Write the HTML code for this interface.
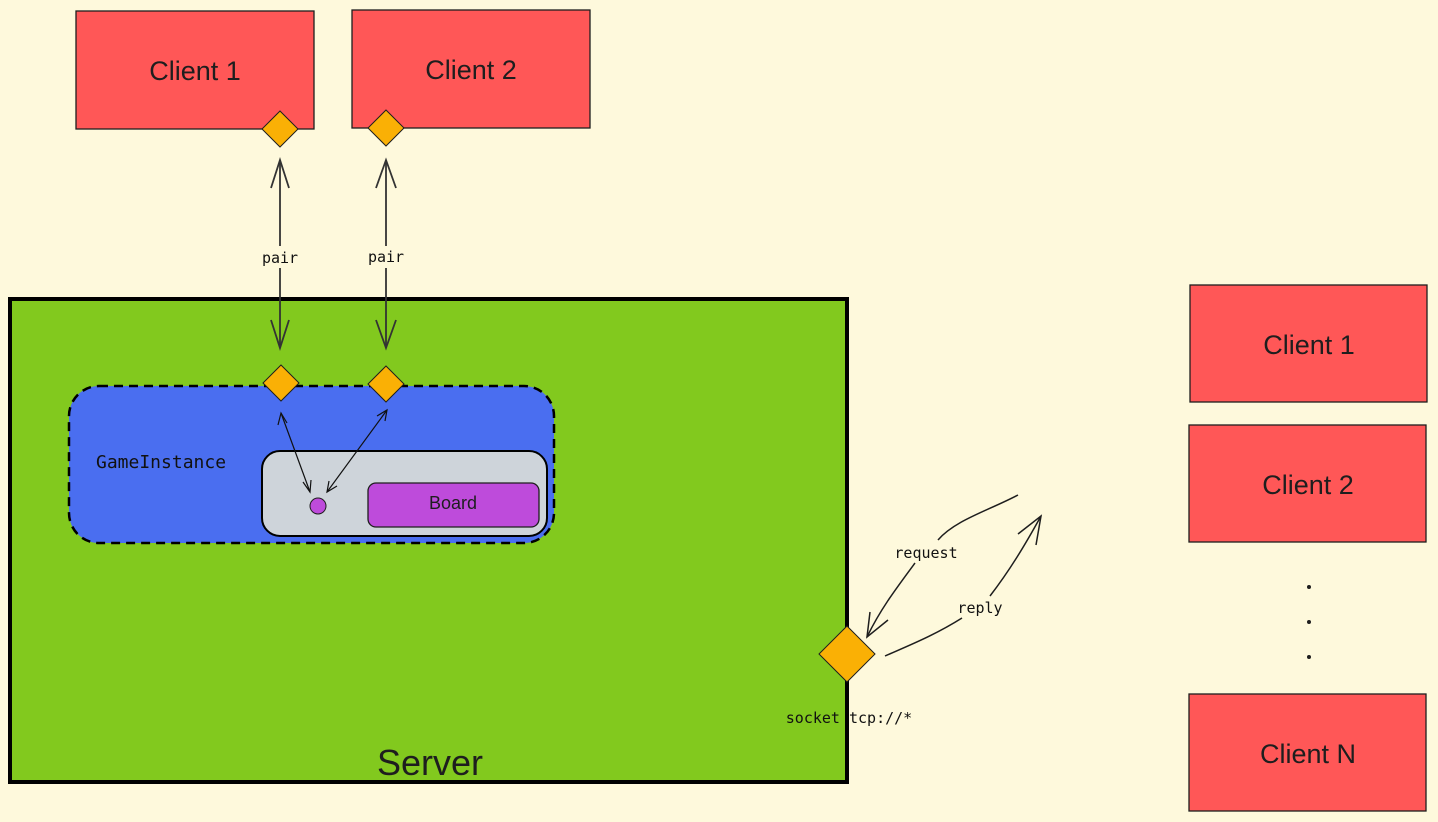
<!DOCTYPE html>
<html><head><meta charset="utf-8"><style>
html,body{margin:0;padding:0;background:#fef9dc;}
svg{display:block}
.h{font-family:"Liberation Sans",sans-serif}
.m{font-family:"DejaVu Sans Mono","Liberation Mono",monospace}
</style></head><body>
<svg width="1438" height="822" viewBox="0 0 1438 822" xmlns="http://www.w3.org/2000/svg">
<rect width="1438" height="822" fill="#fef9dc"/>
<g stroke="#1e1e1e" stroke-width="1.3" fill="#ff5757">
<rect x="76" y="11" width="238" height="118"/>
<rect x="352" y="10" width="238" height="118"/>
<rect x="1190" y="285" width="237" height="117"/>
<rect x="1189" y="425" width="237" height="117"/>
<rect x="1189" y="694" width="237" height="117"/>
</g>
<g class="h" font-size="27" fill="#1e1e1e" text-anchor="middle">
<text x="195" y="80">Client 1</text>
<text x="471" y="79">Client 2</text>
<text x="1309" y="354">Client 1</text>
<text x="1308" y="494">Client 2</text>
<text x="1308" y="763">Client N</text>
</g>
<g fill="#1e1e1e"><circle cx="1309" cy="587" r="2"/><circle cx="1309" cy="622" r="2"/><circle cx="1309" cy="657" r="2"/></g>
<rect x="10" y="299" width="837" height="483" fill="#82c91e" stroke="#000" stroke-width="4"/>
<text x="430" y="775" class="h" font-size="36" text-anchor="middle" fill="#1e1e1e">Server</text>
<rect x="69" y="386" width="485" height="157" rx="30" fill="#4a6ef0" stroke="#000" stroke-width="2.5" stroke-dasharray="9 6"/>
<text x="96" y="468" class="m" font-size="18" fill="#111">GameInstance</text>
<rect x="262" y="451" width="285" height="85" rx="18" fill="#ced4da" stroke="#000" stroke-width="2"/>
<rect x="368" y="483" width="171" height="44" rx="8" fill="#be4bdb" stroke="#1e1e1e" stroke-width="1.3"/>
<text x="453" y="509" font-family="Liberation Sans,sans-serif" font-size="18" text-anchor="middle" fill="#1e1e1e">Board</text>
<circle cx="318" cy="506" r="8" fill="#be4bdb" stroke="#1e1e1e" stroke-width="1"/>
<g fill="#fab005" stroke="#1e1e1e" stroke-width="1">
<polygon points="280,111 298,129 280,147 262,129"/>
<polygon points="386,110 404,128 386,146 368,128"/>
<polygon points="281,365 299,383 281,401 263,383"/>
<polygon points="386,366 404,384 386,402 368,384"/>
<polygon points="847,626 875,654 847,682 819,654"/>
</g>
<g stroke="#333" stroke-width="1.8" fill="none">
<line x1="280" y1="160" x2="280" y2="246"/><line x1="280" y1="268" x2="280" y2="348"/>
<polyline points="271,188 280,160 289,188"/><polyline points="271,320 280,348 289,320"/>
<line x1="386" y1="160" x2="386" y2="246"/><line x1="386" y1="268" x2="386" y2="348"/>
<polyline points="376,188 386,160 396,188"/><polyline points="376,320 386,348 396,320"/>
</g>
<g class="m" font-size="15" fill="#111" text-anchor="middle">
<text x="280" y="263">pair</text><text x="386" y="262">pair</text>
</g>
<g stroke="#111" stroke-width="1.2" fill="none">
<line x1="281" y1="413" x2="310" y2="492"/>
<polyline points="278,425 281,413 287,423"/><polyline points="303,482 310,492 311,480"/>
<line x1="387" y1="410" x2="327" y2="492"/>
<polyline points="377,416 387,410 385,421"/><polyline points="329,481 327,492 337,486"/>
</g>
<g stroke="#1e1e1e" stroke-width="1.5" fill="none">
<path d="M1018,495 C990,510 955,520 938,540"/>
<path d="M915,563 C895,590 880,610 867,637"/>
<polyline points="870,612 867,637 888,620"/>
<path d="M885,656 C910,645 935,635 962,618"/>
<path d="M990,596 C1010,570 1025,545 1041,516"/>
<polyline points="1018,534 1041,516 1036,545"/>
</g>
<g class="m" font-size="15" fill="#111" text-anchor="middle">
<text x="926" y="558">request</text><text x="980" y="613">reply</text>
<text x="849" y="723">socket tcp://*</text>
</g>
</svg>
</body></html>
